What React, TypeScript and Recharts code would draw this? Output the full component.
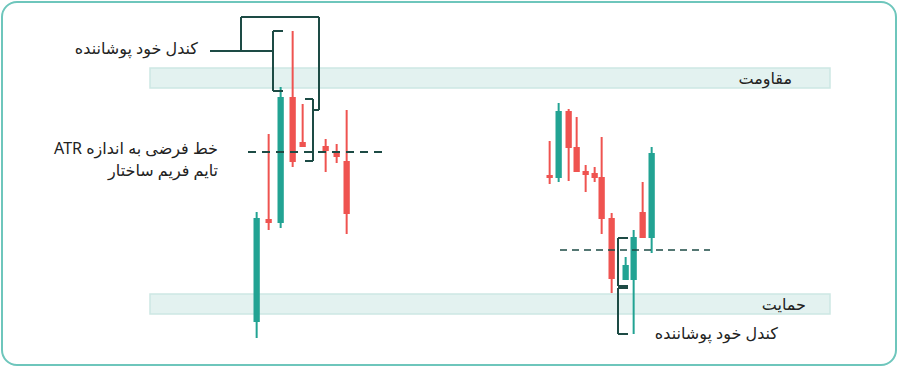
import { ComposedChart, Bar, XAxis, YAxis, ReferenceArea, ReferenceLine } from 'recharts'

const GREEN = '#22a393'
const RED = '#ef5350'
const INK = '#1d4b45'

// candles: t = time position, prices on the chart's own scale
const times = [257, 269, 281, 293, 303, 326, 337, 347, 550, 559, 569, 577, 586, 595, 602, 612, 626, 634, 643, 652]
const opens = [45, 148, 144, 270, 225, 221, 215, 206, 192, 189, 256, 220, 196, 194, 190, 149, 87, 87, 155, 129]
const highs = [155, 233, 280, 336, 263, 228, 223, 257, 226, 264, 258, 250, 202, 200, 230, 154, 110, 137, 185, 220]
const lows = [29, 137, 139, 200, 220, 195, 204, 133, 183, 185, 186, 195, 175, 185, 133, 74, 87, 33, 129, 114]
const closes = [149, 144, 270, 205, 220, 216, 210, 153, 189, 256, 219, 195, 192, 189, 148, 88, 102, 130, 129, 214]

// zones
const resistance = { x1: 150, x2: 830, y1: 279, y2: 299 }
const support = { x1: 150, x2: 830, y1: 53, y2: 73 }

// hypothetical ATR lines
const atrLines = [
  { x1: 248, x2: 388, y: 215 },
  { x1: 560, x2: 710, y: 117 },
]

// bracket / connector polylines
const brackets: [number, number][][] = [
  [[210, 316], [273, 316]],
  [[241, 316], [241, 350], [319, 350], [319, 257], [313, 257]],
  [[283, 336], [273, 336], [273, 276], [283, 276]],
  [[305, 268], [313, 268], [313, 206], [305, 206]],
  [[628, 129], [618, 129], [618, 81], [628, 81]],
  [[628, 79], [618, 79], [618, 33], [628, 33]],
]

const data = times.map((t, i) => ({
  t, open: opens[i], high: highs[i], low: lows[i], close: closes[i],
}))

const Candle = (props: any) => {
  const { x, y, width, height, payload } = props
  const { open, close, high, low } = payload
  const color = close >= open ? GREEN : RED
  const h = Math.abs(height)
  const top0 = Math.min(y, y + height)
  const k = h / (high - low)
  const yOf = (v: number) => top0 + (high - v) * k
  const cx = x + width / 2
  const bTop = yOf(Math.max(open, close))
  const bBot = yOf(Math.min(open, close))
  return (
    <g>
      <line x1={cx} x2={cx} y1={top0} y2={top0 + h} stroke={color} strokeWidth={2} />
      <rect x={x} y={bTop} width={width} height={Math.max(bBot - bTop, 3)} fill={color} />
    </g>
  )
}

const txt: React.CSSProperties = {
  position: 'absolute', fontFamily: "'Noto Sans', 'DejaVu Sans', sans-serif",
  fontSize: 16, color: '#222', direction: 'rtl', textAlign: 'right', whiteSpace: 'nowrap',
}

export default function App() {
  return (
    <div style={{ position: 'absolute', left: 0, top: 0, width: 900, height: 367, background: '#fff' }}>
      <div style={{
        position: 'absolute', left: 1, top: 1, width: 896, height: 365, boxSizing: 'border-box',
        border: '2px solid #6ec6bc', borderRadius: 16,
      }} />
      <ComposedChart width={900} height={367} data={data} margin={{ top: 0, right: 0, bottom: 0, left: 0 }}>
        <XAxis dataKey="t" type="number" domain={[0, 900]} hide />
        <YAxis type="number" domain={[0, 367]} hide />
        <ReferenceArea {...resistance} fill="#e3f2f0" fillOpacity={1} stroke="#cde7e3" strokeWidth={1.5} />
        <ReferenceArea {...support} fill="#e3f2f0" fillOpacity={1} stroke="#cde7e3" strokeWidth={1.5} />
        <Bar dataKey={(d: any) => [d.low, d.high]} barSize={7} shape={Candle} isAnimationActive={false} />
        <ReferenceLine segment={[{ x: atrLines[0].x1, y: atrLines[0].y }, { x: atrLines[0].x2, y: atrLines[0].y }]}
          stroke={INK} strokeWidth={2} strokeDasharray="8 6" />
        <ReferenceLine segment={[{ x: atrLines[1].x1, y: atrLines[1].y }, { x: atrLines[1].x2, y: atrLines[1].y }]}
          stroke={INK} strokeWidth={1.5} strokeDasharray="7 5" />
        {brackets.flatMap((pts, bi) =>
          pts.slice(1).map((p, i) => (
            <ReferenceLine key={`${bi}-${i}`}
              segment={[{ x: pts[i][0], y: pts[i][1] }, { x: p[0], y: p[1] }]}
              stroke={INK} strokeWidth={2} />
          ))
        )}
      </ComposedChart>
      <div style={{ ...txt, right: 900 - 198, top: 37 }}>کندل خود پوشاننده</div>
      <div style={{ ...txt, right: 900 - 792, top: 67 }}>مقاومت</div>
      <div style={{ ...txt, right: 900 - 806, top: 293 }}>حمایت</div>
      <div style={{ ...txt, right: 900 - 218, top: 137, lineHeight: '22px' }}>
        خط فرضی به اندازه ATR<br />تایم فریم ساختار
      </div>
      <div style={{ ...txt, right: 900 - 778, top: 322 }}>کندل خود پوشاننده</div>
    </div>
  )
}
